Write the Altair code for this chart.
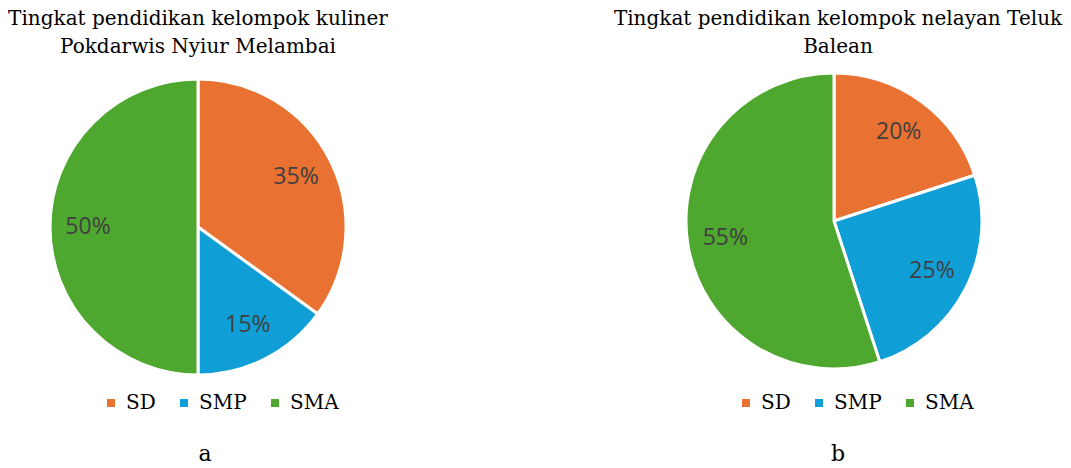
import altair as alt
import pandas as pd

categories = ["SD", "SMP", "SMA"]
values_a = [35, 15, 50]
values_b = [20, 25, 55]
colors = ["#E97132", "#0F9ED5", "#4EA72E"]
title_a = "Tingkat pendidikan kelompok kuliner\nPokdarwis Nyiur Melambai"
title_b = "Tingkat pendidikan kelompok nelayan Teluk\nBalean"
letter_a = "a"
letter_b = "b"

SERIF = "DejaVu Serif"
SANS = "Open Sans"
W, H = 380, 452
R = 148


def panel(values, title, letter, cx, cy, lx, lab_x, tx):
    df = pd.DataFrame({
        "cat": categories,
        "val": values,
        "order": list(range(len(categories))),
        "label": [f"{v}%" for v in values],
    })
    color = alt.Color(
        "cat:N",
        scale=alt.Scale(domain=categories, range=colors),
        legend=alt.Legend(
            orient="none", legendX=lx, legendY=385, direction="horizontal",
            title=None, symbolType="square", symbolSize=64, symbolStrokeWidth=0,
            labelFont=SERIF, labelFontSize=20, labelColor="#000000",
            labelOffset=5, columnPadding=18, labelLimit=200,
        ),
    )
    base = alt.Chart(df).encode(
        theta=alt.Theta("val:Q", stack=True),
        order=alt.Order("order:Q"),
    )
    arcs = base.mark_arc(outerRadius=R, stroke="white", strokeWidth=3).encode(
        color=color, x=alt.value(cx), y=alt.value(cy)
    )
    labels = base.mark_text(radius=110, font=SANS, fontSize=23, color="#404040").encode(
        text="label:N", x=alt.value(cx), y=alt.value(cy)
    )
    tdf = pd.DataFrame({"t": [title]})
    ttl = alt.Chart(tdf).mark_text(
        font=SERIF, fontSize=20, color="#000000", lineBreak="\n", lineHeight=28,
        baseline="top", align="center",
    ).encode(text="t:N", x=alt.value(tx), y=alt.value(1))
    ldf = pd.DataFrame({"t": [letter]})
    let = alt.Chart(ldf).mark_text(
        font=SERIF, fontSize=22, color="#000000", baseline="middle", align="center",
    ).encode(text="t:N", x=alt.value(lab_x), y=alt.value(446))
    return alt.layer(arcs, labels, ttl, let).properties(width=W, height=H)


pa = panel(values_a, title_a, letter_a, 190, 219, 93, 197, 190)
pb = panel(values_b, title_b, letter_b, 188, 213, 90, 192, 192)

chart = alt.hconcat(pa, pb, spacing=258, bounds="flush").resolve_scale(
    color="independent"
).properties(padding=0).configure_view(stroke=None)

chart.save("out.html", embed_options={"renderer": "svg", "actions": False})
